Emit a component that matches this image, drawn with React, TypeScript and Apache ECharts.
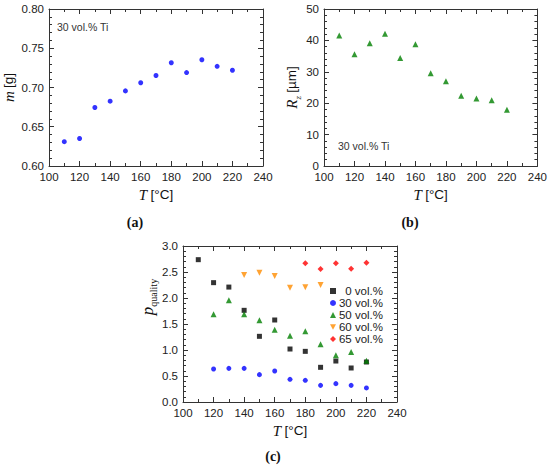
import React, { useEffect, useRef } from "react";
import * as echarts from "echarts";

const temps = [110, 120, 130, 140, 150, 160, 170, 180, 190, 200, 210, 220];
const massA = [0.631, 0.635, 0.6745, 0.6826, 0.6957, 0.706, 0.7153, 0.7315, 0.719, 0.7353, 0.727, 0.722];
const rzB = [41.6, 35.6, 39.1, 42.1, 34.4, 38.8, 29.5, 27.0, 22.4, 21.5, 20.9, 17.9];

const temps0 = [110, 120, 130, 140, 150, 160, 170, 180, 190, 200, 210, 220];
const pq0 = [2.737, 2.295, 2.21, 1.763, 1.263, 1.577, 1.019, 0.974, 0.667, 0.788, 0.654, 0.769];
const temps30 = [120, 130, 140, 150, 160, 170, 180, 190, 200, 210, 220];
const pq30 = [0.635, 0.647, 0.647, 0.526, 0.596, 0.436, 0.417, 0.32, 0.353, 0.32, 0.27];
const temps50 = [120, 130, 140, 150, 160, 170, 180, 190, 200, 210, 220];
const pq50 = [1.686, 1.955, 1.686, 1.57, 1.39, 1.276, 1.359, 1.109, 0.897, 0.96, 0.795];
const temps60 = [140, 150, 160, 170, 180, 190];
const pq60 = [2.442, 2.487, 2.423, 2.199, 2.205, 2.25];
const temps65 = [180, 190, 200, 210, 220];
const pq65 = [2.667, 2.558, 2.667, 2.564, 2.68];

const legendNames = ["0 vol.%", "30 vol.%", "50 vol.%", "60 vol.%", "65 vol.%"];
const xTicks = { min: 100, max: 240, interval: 20 };

const SANS = "Arial, 'Liberation Sans', sans-serif";
const SERIF = "'Times New Roman', 'Liberation Serif', serif";
const LINE = "#333";
const INV_TRI = "path://M0,0 L10,0 L5,9 Z";

const zip = (xs: number[], ys: number[]) => xs.map((x, i) => [x, ys[i]]);

const nameRich = {
  i: { fontFamily: SERIF, fontStyle: "italic", fontSize: 15, color: "#111", lineHeight: 16, verticalAlign: "top" },
  p: { fontFamily: SERIF, fontStyle: "italic", fontSize: 17, color: "#111", lineHeight: 17, verticalAlign: "top" },
  n: { fontFamily: SANS, fontSize: 13.5, color: "#111", lineHeight: 16, verticalAlign: "top" },
  s: { fontFamily: SERIF, fontStyle: "italic", fontSize: 9, color: "#111", lineHeight: 9, padding: [9, 0, 0, 0], verticalAlign: "top" },
  q: { fontFamily: SERIF, fontSize: 10, color: "#111", lineHeight: 10, padding: [9, 0, 0, 0], verticalAlign: "top" },
};

function xAxis(grid: number, position: "bottom" | "top", show: boolean) {
  return {
    type: "value",
    gridIndex: grid,
    position,
    ...xTicks,
    name: show ? "{i|T} {n|[°C]}" : "",
    nameLocation: "middle",
    nameGap: 21,
    nameTextStyle: { rich: nameRich },
    axisLine: { show: true, onZero: false, lineStyle: { color: LINE, width: 1 } },
    axisTick: { show: true, inside: true, length: 5, lineStyle: { color: LINE, width: 1 } },
    minorTick: { show: true, splitNumber: 2, length: 3, lineStyle: { color: LINE, width: 1 } },
    splitLine: { show: false },
    axisLabel: { show, color: "#222", fontSize: 11.5, fontFamily: SANS, margin: 5 },
  };
}

function yAxis(
  grid: number,
  position: "left" | "right",
  show: boolean,
  min: number,
  max: number,
  interval: number,
  digits: number,
  name: string,
  nameGap: number,
  namePadding: number[] = [0, 0, 0, 0]
) {
  return {
    type: "value",
    gridIndex: grid,
    position,
    min,
    max,
    interval,
    name: show ? name : "",
    nameLocation: "middle",
    nameGap,
    nameTextStyle: { rich: nameRich, padding: namePadding },
    axisLine: { show: true, onZero: false, lineStyle: { color: LINE, width: 1 } },
    axisTick: { show: true, inside: true, length: 5, lineStyle: { color: LINE, width: 1 } },
    minorTick: { show: true, splitNumber: 5, length: 3, lineStyle: { color: LINE, width: 1 } },
    splitLine: { show: false },
    axisLabel: {
      show,
      color: "#222",
      fontSize: 11.5,
      fontFamily: SANS,
      margin: 5,
      formatter: (v: number) => v.toFixed(digits),
    },
  };
}

export default function App() {
  const ref = useRef<HTMLDivElement>(null);

  useEffect(() => {
    if (!ref.current) return;
    const chart = echarts.init(ref.current, undefined, { renderer: "svg" });
    const option = {
      animation: false,
      backgroundColor: "#fff",
      grid: [
        { left: 48, top: 9, width: 215, height: 157 },
        { left: 324, top: 9, width: 214, height: 157 },
        { left: 183, top: 246, width: 214, height: 156 },
      ],
      xAxis: [
        xAxis(0, "bottom", true),
        xAxis(0, "top", false),
        xAxis(1, "bottom", true),
        xAxis(1, "top", false),
        xAxis(2, "bottom", true),
        xAxis(2, "top", false),
      ],
      yAxis: [
        yAxis(0, "left", true, 0.6, 0.8, 0.05, 2, "{i|m} {n|[g]}", 32),
        yAxis(0, "right", false, 0.6, 0.8, 0.05, 2, "", 0),
        yAxis(1, "left", true, 0, 50, 10, 0, "{i|R}{s|z} {n|[µm]}", 24),
        yAxis(1, "right", false, 0, 50, 10, 0, "", 0),
        yAxis(2, "left", true, 0, 3, 0.5, 1, "{p|p}{q|quality}", 25, [0, 0, 0, 54]),
        yAxis(2, "right", false, 0, 3, 0.5, 1, "", 0),
      ],
      legend: {
        orient: "vertical",
        left: 325,
        top: 280,
        itemWidth: 6,
        itemHeight: 6,
        itemGap: 0,
        formatter: "{a|{name}}",
        textStyle: {
          rich: {
            a: { width: 42, align: "right", fontSize: 11.5, fontFamily: SANS, color: "#222", lineHeight: 11 },
          },
        },
        data: [
          { name: legendNames[0], icon: "rect" },
          { name: legendNames[1], icon: "circle" },
          { name: legendNames[2], icon: "triangle" },
          { name: legendNames[3], icon: INV_TRI },
          { name: legendNames[4], icon: "diamond" },
        ],
      },
      series: [
        {
          type: "scatter",
          xAxisIndex: 0,
          yAxisIndex: 0,
          symbol: "circle",
          symbolSize: 5,
          itemStyle: { color: "#0000ff" },
          data: zip(temps, massA),
        },
        {
          type: "scatter",
          xAxisIndex: 2,
          yAxisIndex: 2,
          symbol: "triangle",
          symbolSize: 6,
          itemStyle: { color: "#008000" },
          data: zip(temps, rzB),
        },
        {
          name: legendNames[0],
          type: "scatter",
          xAxisIndex: 4,
          yAxisIndex: 4,
          symbol: "rect",
          symbolSize: 5,
          itemStyle: { color: "#000" },
          data: zip(temps0, pq0),
        },
        {
          name: legendNames[1],
          type: "scatter",
          xAxisIndex: 4,
          yAxisIndex: 4,
          symbol: "circle",
          symbolSize: 5,
          itemStyle: { color: "#0000ff" },
          data: zip(temps30, pq30),
        },
        {
          name: legendNames[2],
          type: "scatter",
          xAxisIndex: 4,
          yAxisIndex: 4,
          symbol: "triangle",
          symbolSize: 6,
          itemStyle: { color: "#008000" },
          data: zip(temps50, pq50),
        },
        {
          name: legendNames[3],
          type: "scatter",
          xAxisIndex: 4,
          yAxisIndex: 4,
          symbol: INV_TRI,
          symbolSize: 6,
          itemStyle: { color: "#ff8c00" },
          data: zip(temps60, pq60),
        },
        {
          name: legendNames[4],
          type: "scatter",
          xAxisIndex: 4,
          yAxisIndex: 4,
          symbol: "diamond",
          symbolSize: 6,
          itemStyle: { color: "#ff0000" },
          data: zip(temps65, pq65),
        },
      ],
      graphic: [
        { type: "text", left: 57, top: 21, style: { text: "30 vol.% Ti", fontFamily: SANS, fontSize: 10.5, fill: "#333" } },
        { type: "text", left: 338, top: 140, style: { text: "30 vol.% Ti", fontFamily: SANS, fontSize: 10.5, fill: "#333" } },
        { type: "text", x: 135, y: 222, style: { text: "(a)", fontFamily: SERIF, fontSize: 14, fontWeight: "bold", fill: "#111", align: "center", verticalAlign: "middle" } },
        { type: "text", x: 410, y: 222, style: { text: "(b)", fontFamily: SERIF, fontSize: 14, fontWeight: "bold", fill: "#111", align: "center", verticalAlign: "middle" } },
        { type: "text", x: 273, y: 456, style: { text: "(c)", fontFamily: SERIF, fontSize: 14, fontWeight: "bold", fill: "#111", align: "center", verticalAlign: "middle" } },
      ],
    };
    chart.setOption(option as any);
    return () => chart.dispose();
  }, []);

  return (
    <div
      ref={ref}
      style={{ position: "absolute", left: 0, top: 0, width: 550, height: 469, background: "#fff" }}
    />
  );
}
